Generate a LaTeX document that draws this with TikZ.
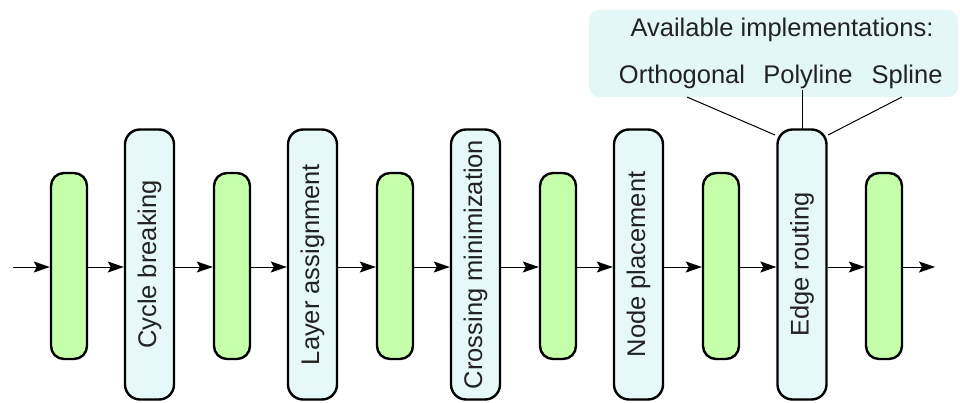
\documentclass[tikz,border=0pt]{standalone}
\usepackage{fontspec}
\setmainfont{Liberation Sans}
\usetikzlibrary{arrows.meta}
\definecolor{graphfill}{HTML}{C5FFA9}
\definecolor{stagefill}{HTML}{E6F8F8}
\definecolor{panelfill}{HTML}{E4F7F7}
\definecolor{textgray}{HTML}{222222}
\begin{document}
\begin{tikzpicture}[x=1pt,y=-1pt,
  font=\fontsize{25.5}{30}\selectfont,
  stage/.style={draw=black, line width=2.4pt, fill=stagefill, rounded corners=15pt,
    minimum width=49pt, minimum height=270pt, inner sep=0pt, text=textgray},
  graphbox/.style={draw=black, line width=2.4pt, fill=graphfill, rounded corners=13pt,
    minimum width=36pt, minimum height=186pt, inner sep=0pt},
  flow/.style={-{Stealth[length=16pt,width=11pt,inset=3pt]}, line width=1pt},
  impl/.style={text=textgray, inner sep=0pt},
  link/.style={line width=1pt}
]
\useasboundingbox (0,0) rectangle (960,403);

% panel listing the routing implementations
\node[fill=panelfill, rounded corners=10pt, minimum width=369pt, minimum height=87pt,
  inner sep=0pt] (panel) at (773.5,53.5) {};
\node[impl] (avail) at (782,30) {Available implementations:};
\node[impl] (ortho) at (682,77) {Orthogonal};
\node[impl] (poly)  at (808,77) {Polyline};
\node[impl] (spline) at (907,77) {Spline};

% graphs between phases
\node[graphbox] (g1) at (69,266) {};
\node[graphbox] (g2) at (232,266) {};
\node[graphbox] (g3) at (395,266) {};
\node[graphbox] (g4) at (558,266) {};
\node[graphbox] (g5) at (721,266) {};
\node[graphbox] (g6) at (884,266) {};

% layout phases
\node[stage] (s1) at (149.5,264.5) {\rotatebox{90}{Cycle breaking}};
\node[stage] (s2) at (312.5,264.5) {\rotatebox{90}{Layer assignment}};
\node[stage] (s3) at (475.5,264.5) {\rotatebox{90}{Crossing minimization}};
\node[stage] (s4) at (638.5,264.5) {\rotatebox{90}{Node placement}};
\node[stage] (s5) at (802,264.5) {\rotatebox{90}{Edge routing}};

% links from the implementations to the routing phase
\coordinate (orthoend) at (687,97);
\coordinate (polyend) at (802,90);
\coordinate (splineend) at (902,97);
\coordinate (s5ortho) at (775,135);
\coordinate (s5poly) at (802,129);
\coordinate (s5spline) at (828,135);
\draw[link] (orthoend) -- (s5ortho);
\draw[link] (polyend) -- (s5poly);
\draw[link] (splineend) -- (s5spline);

% pipeline flow
\coordinate (in) at (13,267);
\coordinate (out) at (935,267);
\draw[flow] (in) -- (in -| g1.west);
\draw[flow] (in -| g1.east) -- (in -| s1.west);
\draw[flow] (in -| s1.east) -- (in -| g2.west);
\draw[flow] (in -| g2.east) -- (in -| s2.west);
\draw[flow] (in -| s2.east) -- (in -| g3.west);
\draw[flow] (in -| g3.east) -- (in -| s3.west);
\draw[flow] (in -| s3.east) -- (in -| g4.west);
\draw[flow] (in -| g4.east) -- (in -| s4.west);
\draw[flow] (in -| s4.east) -- (in -| g5.west);
\draw[flow] (in -| g5.east) -- (in -| s5.west);
\draw[flow] (in -| s5.east) -- (in -| g6.west);
\draw[flow] (in -| g6.east) -- (out);
\end{tikzpicture}
\end{document}
